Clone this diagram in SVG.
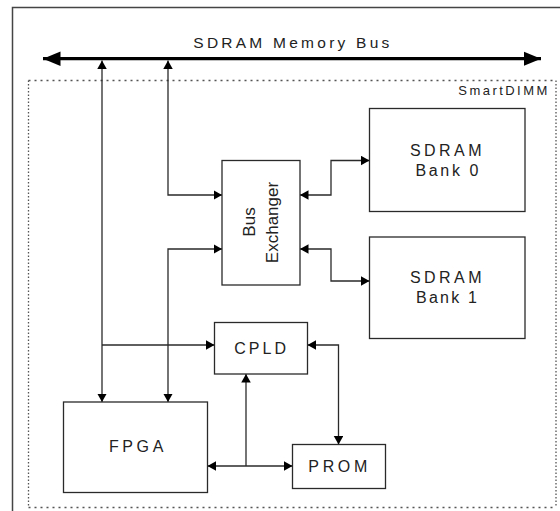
<svg xmlns="http://www.w3.org/2000/svg" width="560" height="511" viewBox="0 0 560 511">
<style>
  .box { fill: #ffffff; stroke: #2a2a2a; stroke-width: 1.3; }
  .lbl { font-family: "Liberation Sans", Arial, sans-serif; font-size: 16px; fill: #222; }
  .conn { fill: none; stroke: #2a2a2a; stroke-width: 1.3; }
  .bi { marker-start: url(#arr); marker-end: url(#arr); }
  .uni { marker-end: url(#arr); }
  .dotH { fill: none; stroke: #555; stroke-width: 1.3; stroke-dasharray: 2 4; }
  .dotV { fill: none; stroke: #555; stroke-width: 1.3; stroke-dasharray: 1.5 2; }
</style>
<defs>
  <marker id="arr" markerUnits="userSpaceOnUse" markerWidth="9" markerHeight="10" refX="8.5" refY="4.75" orient="auto-start-reverse">
    <path d="M0,0 L8.5,4.75 L0,9.5 z" fill="#000"/>
  </marker>
  <marker id="bigarr" markerUnits="userSpaceOnUse" markerWidth="18" markerHeight="15" refX="17.5" refY="7.25" orient="auto-start-reverse">
    <path d="M0,0 L17.5,7.25 L0,14.5 z" fill="#000"/>
  </marker>
</defs>
<rect x="0" y="0" width="560" height="511" fill="#ffffff"/>
<rect id="frame" x="12.5" y="7.5" width="600" height="600" fill="none" stroke="#444" stroke-width="1.5"/>

<g id="smartdimm">
  <path class="dotH" d="M28.5,80.5 H556 M28.5,507.5 H556"/>
  <path class="dotV" d="M28.5,80.5 V507.5 M556,80.5 V507.5"/>
  <text class="lbl" x="458.3" y="94.5" style="font-size:13px" textLength="89">SmartDIMM</text>
</g>

<g id="memory-bus">
  <path d="M43,58.7 H541" fill="none" stroke="#000" stroke-width="3.3" marker-start="url(#bigarr)" marker-end="url(#bigarr)"/>
  <text class="lbl" x="193.3" y="47.7" style="font-size:15.5px" textLength="196">SDRAM Memory Bus</text>
</g>

<g id="connectors">
  <path class="conn bi" d="M102,60.5 V402"/>
  <path class="conn bi" d="M168,60.5 V195 H222"/>
  <path class="conn bi" d="M222,249 H168 V402"/>
  <path class="conn uni" d="M102,345 H214.5"/>
  <path class="conn bi" d="M300,195 H331 V160.5 H369.5"/>
  <path class="conn bi" d="M300,249 H331 V281 H369.5"/>
  <path class="conn bi" d="M207.5,466 H292.5"/>
  <path class="conn uni" d="M246,466 V374"/>
  <path class="conn bi" d="M307.5,345 H338.5 V444.5"/>
</g>

<g id="bus-exchanger">
  <rect class="box" x="222" y="160.5" width="78" height="124.5"/>
  <text class="lbl" style="font-size:17px" transform="translate(255,222) rotate(-90)" text-anchor="middle">Bus</text>
  <text class="lbl" style="font-size:17px" transform="translate(277.5,222.5) rotate(-90)" text-anchor="middle">Exchanger</text>
</g>

<g id="sdram-bank-0">
  <rect class="box" x="369.5" y="108.5" width="155.5" height="103"/>
  <text class="lbl" x="410" y="156" textLength="71.5">SDRAM</text>
  <text class="lbl" x="415.5" y="175.5" textLength="63">Bank 0</text>
</g>

<g id="sdram-bank-1">
  <rect class="box" x="369.5" y="237" width="155.5" height="101.5"/>
  <text class="lbl" x="410" y="283.3" textLength="71.5">SDRAM</text>
  <text class="lbl" x="416" y="303.3" textLength="61">Bank 1</text>
</g>

<g id="cpld">
  <rect class="box" x="214.5" y="322.5" width="93" height="51.5"/>
  <text class="lbl" x="234.3" y="354" textLength="51.7">CPLD</text>
</g>

<g id="fpga">
  <rect class="box" x="63.5" y="402" width="144" height="90.5"/>
  <text class="lbl" x="109" y="451.7" textLength="54.3">FPGA</text>
</g>

<g id="prom">
  <rect class="box" x="292.5" y="444.5" width="93" height="44"/>
  <text class="lbl" x="308.3" y="471.7" textLength="59">PROM</text>
</g>
</svg>
